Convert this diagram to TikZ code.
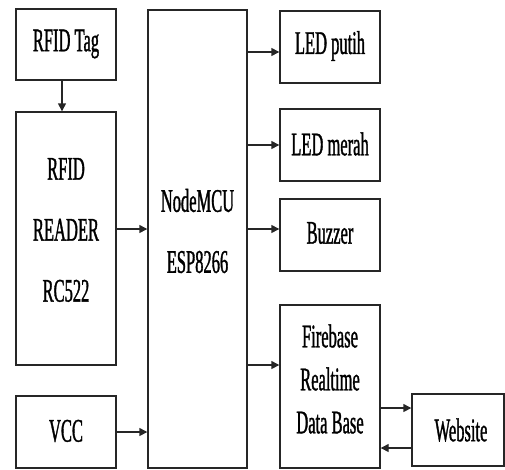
\documentclass[tikz,border=0pt]{standalone}
\usepackage{fontspec}
\setmainfont{Liberation Serif}[FakeStretch=0.5,FakeBold=1]
\usetikzlibrary{arrows.meta}
\begin{document}
\begin{tikzpicture}[x=1pt,y=-1pt,
  box/.style={draw=black!85, line width=1.4pt, inner sep=0pt, minimum width=100pt},
  txt/.style={align=center, inner sep=0pt, font=\fontsize{33}{61}\selectfont},
  txtb/.style={align=center, inner sep=0pt, font=\fontsize{33}{43}\selectfont},
  arr/.style={line width=1.4pt, draw=black!85, -{Triangle[length=8pt,width=8pt]}}]
\useasboundingbox (0,0) rectangle (505,469);
% boxes
\node[box, minimum height=71pt] (tag) at (66,44.5) {};
\node[box, minimum height=253pt] (reader) at (66,238.5) {};
\node[box, minimum height=72pt] (vcc) at (66,432) {};
\node[box, minimum width=99pt, minimum height=458pt] (mcu) at (197.5,239) {};
\node[box, minimum height=72pt] (led1) at (330,47) {};
\node[box, minimum height=72pt] (led2) at (330,145) {};
\node[box, minimum height=72pt] (buz) at (330,235) {};
\node[box, minimum height=163pt] (fb) at (330,386.5) {};
\node[box, minimum width=92pt, minimum height=72pt] (web) at (458,430) {};
% texts
\node[txt] (tagt) at (66,44) {RFID Tag};
\node[txt] (readert) at (66,230) {RFID\\READER\\RC522};
\node[txt] (vcct) at (66,431) {VCC};
\node[txt] (mcut) at (197.5,231) {NodeMCU\\ESP8266};
\node[txt] (led1t) at (330,46) {LED putih};
\node[txt] (led2t) at (330,144) {LED merah};
\node[txt] (buzt) at (330,233) {Buzzer};
\node[txtb] (fbt) at (330,379) {Firebase\\Realtime\\Data Base};
\node[txt] (webt) at (461,430) {Website};
% connectors
\draw[arr] ([xshift=-4pt]tag.south) -- ([xshift=-4pt]reader.north);
\draw[arr] ([yshift=9.5pt]reader.east) -- ([yshift=9.5pt]reader.east -| mcu.west);
\draw[arr] (vcc.east) -- (vcc.east -| mcu.west);
\draw[arr] ([yshift=-5pt]led1.west -| mcu.east) -- ([yshift=-5pt]led1.west);
\draw[arr] (led2.west -| mcu.east) -- (led2.west);
\draw[arr] ([yshift=6pt]buz.west -| mcu.east) -- ([yshift=6pt]buz.west);
\draw[arr] ([yshift=21.5pt]fb.west -| mcu.east) -- ([yshift=21.5pt]fb.west);
\draw[arr] ([yshift=22pt]web.west -| fb.east) -- ([yshift=22pt]web.west);
\draw[arr] ([yshift=-18pt]web.west) -- ([yshift=-18pt]web.west -| fb.east);
\end{tikzpicture}
\end{document}
